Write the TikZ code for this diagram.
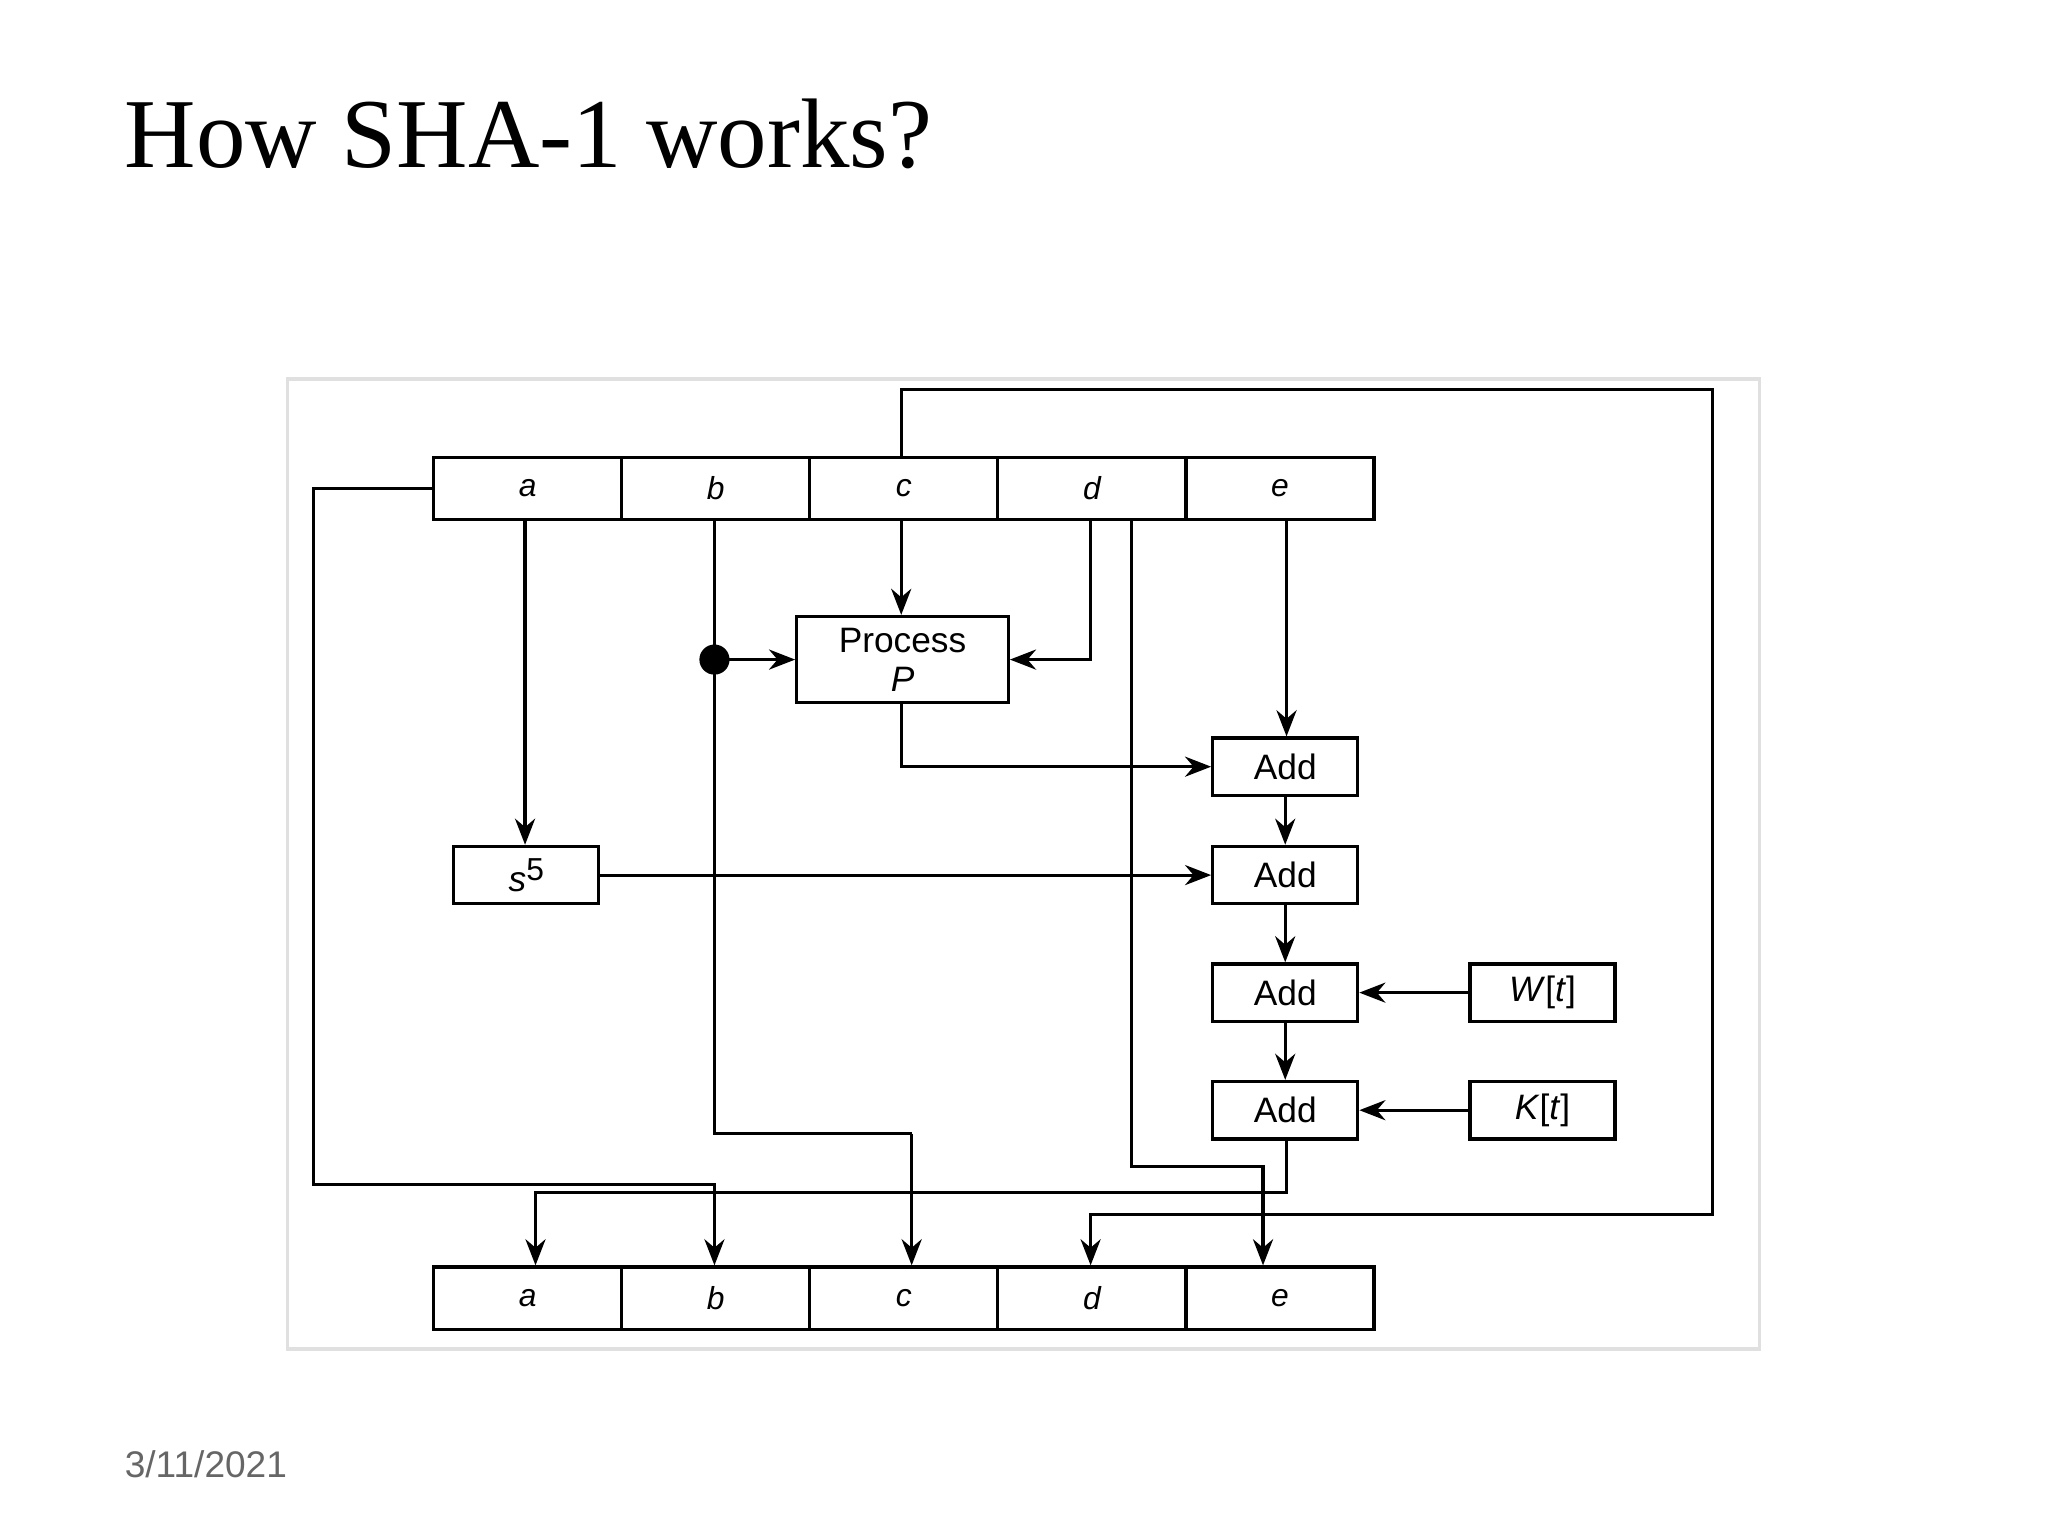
\documentclass[tikz,border=0pt]{standalone}
\usepackage{fontspec}
\setmainfont{Liberation Serif}
\setsansfont{Liberation Sans}
\usetikzlibrary{arrows.meta}
\begin{document}
\begin{tikzpicture}[x=0.013cm,y=-0.013cm,
  reg/.style={draw,line width=0.9pt,minimum width=1.872cm,minimum height=0.624cm,inner sep=0pt,font=\sffamily\itshape\small},
  addbox/.style={draw,line width=0.9pt,minimum width=1.443cm,minimum height=0.572cm,inner sep=0pt,font=\sffamily},
  ln/.style={line width=0.9pt},
  ar/.style={line width=0.9pt,-{Stealth[length=2.6mm,width=2mm]}}]
\useasboundingbox (0,0) rectangle (1568,1176);
\fill[white] (0,0) rectangle (1568,1176);
\draw[black!12,line width=1pt] (220,290) rectangle (1347,1033);
\node[anchor=base west,inner sep=0pt,font=\fontsize{28}{34}\selectfont] (title) at (95,128) {How SHA-1 works?};
\node[anchor=base west,inner sep=0pt,font=\sffamily\fontsize{10.5}{13}\selectfont,text=black!60] (date) at (95,1131) {3/11/2021};
% registers
\foreach \n/\x in {a/404,b/548,c/692,d/836,e/980}{
  \node[reg] (t\n) at (\x,374) {\n};
  \node[reg] (o\n) at (\x,994) {\n};
}
\node[draw,line width=0.9pt,minimum width=2.106cm,minimum height=0.858cm,inner sep=0pt,align=center,font=\sffamily\fontsize{10}{11}\selectfont] (proc) at (691,505) {Process\\\textit{P}};
\node[addbox] (add1) at (984,587) {Add};
\node[addbox] (add2) at (984,670) {Add};
\node[addbox] (add3) at (984,760) {Add};
\node[addbox] (add4) at (984,850) {Add};
\node[addbox] (w) at (1181,760) {\textit{W}[\textit{t}]};
\node[addbox] (k) at (1181,850) {\textit{K}[\textit{t}]};
\node[addbox] (s5) at (403,670) {\textit{s}\raisebox{0.6ex}{\small 5}};
% a
\draw[ar] (402,398) -- (s5.north -| 402,0);
\draw[ar] (ta.west) -- (240,374) -- (240,907) -- (547,907) -- (ob.north -| 547,0);
% b
\coordinate (dot) at (547,505);
\draw[ln] (547,398) -- (547,868) -- (698,868);
\draw[ar] (698,868) -- (oc.north -| 698,0);
\fill (dot) circle (0.15cm);
\draw[ar] (dot) -- (proc.west);
% c
\draw[ar] (690,398) -- (proc.north -| 690,0);
\draw[ar] (690,350) -- (690,298) -- (1311,298) -- (1311,930) -- (835,930) -- (od.north -| 835,0);
% d
\draw[ar] (835,398) -- (835,505) -- (proc.east);
\draw[ar] (866,398) -- (866,893) -- (967,893) -- (oe.north -| 967,0);
% e
\draw[ar] (985,398) -- (add1.north -| 985,0);
\draw[ar] (690,538) -- (690,587) -- (add1.west);
\draw[ar] (s5.east) -- (add2.west);
\draw[ar] (add1) -- (add2);
\draw[ar] (add2) -- (add3);
\draw[ar] (add3) -- (add4);
\draw[ar] (w) -- (add3);
\draw[ar] (k) -- (add4);
\draw[ar] (add4.south -| 985,0) -- (985,913) -- (410,913) -- (oa.north -| 410,0);
\end{tikzpicture}
\end{document}
